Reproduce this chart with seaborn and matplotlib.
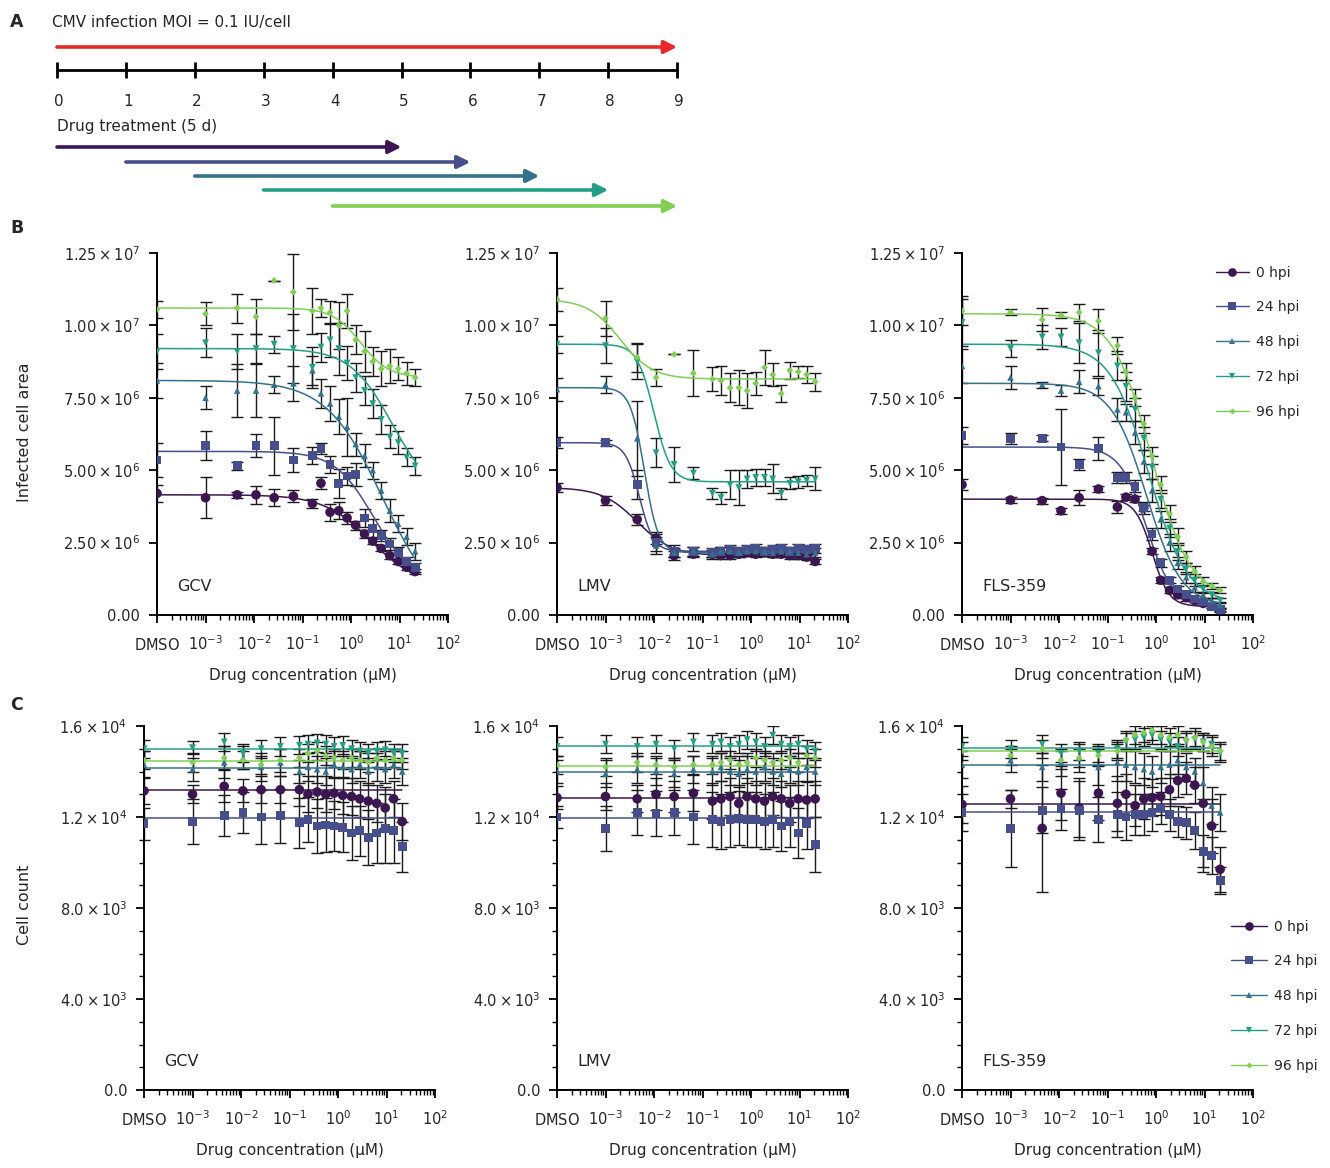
import numpy as np
import pandas as pd
import matplotlib.pyplot as plt
import seaborn as sns
from matplotlib.lines import Line2D
from matplotlib.ticker import FixedLocator, MultipleLocator, LogLocator, NullFormatter

# -------------------------
# DATA
# -------------------------

TIMES = ["0 hpi", "24 hpi", "48 hpi", "72 hpi", "96 hpi"]
DRUGS = ["GCV", "LMV", "FLS-359"]

# drug concentrations (uM); DMSO control is drawn at the left edge of the axis
DMSO_X = 1e-4
CONC = [0.001, 0.0045, 0.011, 0.026, 0.065, 0.16, 0.24, 0.37, 0.56, 0.83,
        1.25, 1.9, 2.8, 4.2, 6.3, 9.4, 14, 21]

# panel A timeline
DAYS = [0, 1, 2, 3, 4, 5, 6, 7, 8, 9]
TREAT_START = [0, 1, 2, 3, 4]
TREAT_END = [5, 6, 7, 8, 9]

# panel B: infected cell area (x 1e6), first value = DMSO
gcv_area = {
    "0 hpi": [4.2, 4.05, 4.15, 4.15, 4.05, 4.1, 3.85, 4.55, 3.55, 3.6, 3.35, 3.1, 2.8, 2.55, 2.3, 2.05, 1.85, 1.65, 1.5],
    "24 hpi": [5.35, 5.85, 5.15, 5.85, 5.85, 5.35, 5.5, 5.75, 5.2, 4.55, 4.8, 4.85, 3.35, 3.0, 2.75, 2.45, 2.15, 1.85, 1.65],
    "48 hpi": [8.1, 7.5, 7.75, 7.75, 7.95, 8.0, 8.45, 7.65, 7.3, 6.85, 6.5, 5.9, 5.5, 5.0, 4.3, 3.6, 3.15, 2.7, 2.2],
    "72 hpi": [9.1, 9.4, 9.1, 9.2, 9.35, 9.2, 8.55, 9.25, 9.5, 9.2, 8.7, 8.2, 7.75, 7.3, 6.75, 6.15, 5.95, 5.45, 5.15],
    "96 hpi": [10.55, 10.4, 10.6, 10.3, 11.55, 11.15, 10.5, 10.6, 10.45, 10.0, 10.5, 9.5, 9.1, 8.75, 8.5, 8.6, 8.5, 8.35, 8.2],
}
gcv_area_sd = {
    "0 hpi": [0.3, 0.7, 0.1, 0.3, 0.3, 0.2, 0.15, 0.2, 0.3, 0.3, 0.2, 0.15, 0.15, 0.1, 0.1, 0.1, 0.1, 0.1, 0.1],
    "24 hpi": [0.6, 0.5, 0.15, 0.4, 1.0, 0.4, 0.3, 0.2, 0.3, 0.5, 0.3, 0.4, 0.3, 0.3, 0.2, 0.2, 0.2, 0.15, 0.15],
    "48 hpi": [0.6, 0.4, 0.9, 0.9, 0.3, 0.6, 0.5, 0.5, 0.6, 0.6, 1.0, 0.4, 0.4, 0.3, 0.3, 0.4, 0.3, 0.3, 0.3],
    "72 hpi": [0.6, 0.5, 0.6, 0.5, 0.3, 1.2, 0.7, 0.5, 0.6, 0.9, 0.6, 0.5, 0.5, 0.5, 0.5, 0.4, 0.4, 0.3, 0.3],
    "96 hpi": [0.3, 0.4, 0.5, 0.6, 0.0, 1.3, 0.8, 0.3, 0.4, 0.8, 0.6, 0.5, 0.7, 0.5, 0.6, 0.6, 0.4, 0.4, 0.3],
}
lmv_area = {
    "0 hpi": [4.4, 3.95, 3.3, 2.65, 2.05, 2.1, 2.1, 2.05, 2.05, 2.1, 2.15, 2.1, 2.15, 2.1, 2.1, 2.05, 2.05, 2.0, 1.85],
    "24 hpi": [5.95, 5.95, 4.5, 2.5, 2.2, 2.2, 2.15, 2.2, 2.25, 2.2, 2.25, 2.3, 2.2, 2.25, 2.3, 2.2, 2.3, 2.25, 2.3],
    "48 hpi": [7.8, 7.95, 6.1, 2.4, 2.15, 2.2, 2.1, 2.2, 2.2, 2.15, 2.2, 2.2, 2.2, 2.15, 2.2, 2.2, 2.15, 2.1, 2.15],
    "72 hpi": [9.35, 9.3, 8.75, 5.6, 5.2, 4.9, 4.2, 4.05, 4.5, 4.4, 4.7, 4.75, 4.75, 4.7, 4.2, 4.55, 4.6, 4.65, 4.7],
    "96 hpi": [10.9, 10.25, 8.9, 8.2, 9.0, 8.35, 8.15, 8.1, 7.85, 7.85, 7.75, 8.0, 8.55, 8.3, 7.65, 8.45, 8.4, 8.3, 8.05],
}
lmv_area_sd = {
    "0 hpi": [0.15, 0.15, 0.2, 0.2, 0.15, 0.1, 0.1, 0.1, 0.1, 0.1, 0.1, 0.1, 0.1, 0.1, 0.1, 0.1, 0.1, 0.1, 0.1],
    "24 hpi": [0.2, 0.1, 0.5, 0.3, 0.2, 0.15, 0.15, 0.15, 0.15, 0.15, 0.15, 0.15, 0.15, 0.15, 0.15, 0.15, 0.15, 0.15, 0.15],
    "48 hpi": [0.4, 0.3, 1.3, 0.3, 0.15, 0.15, 0.15, 0.15, 0.15, 0.15, 0.15, 0.15, 0.15, 0.15, 0.15, 0.15, 0.15, 0.15, 0.15],
    "72 hpi": [0.3, 0.6, 0.6, 0.5, 0.6, 0.2, 0.2, 0.2, 0.5, 0.6, 0.3, 0.3, 0.3, 0.5, 0.2, 0.2, 0.2, 0.2, 0.4],
    "96 hpi": [0.4, 0.6, 0.5, 0.3, 0.0, 0.8, 0.4, 0.5, 0.5, 0.6, 0.6, 0.4, 0.6, 0.4, 0.3, 0.3, 0.2, 0.3, 0.3],
}
fls_area = {
    "0 hpi": [4.5, 3.97, 3.95, 3.6, 4.05, 4.35, 3.73, 4.07, 4.0, 3.7, 2.2, 1.2, 0.85, 0.7, 0.6, 0.5, 0.4, 0.3, 0.15],
    "24 hpi": [6.2, 6.1, 6.1, 5.8, 5.2, 5.75, 4.75, 4.75, 4.45, 3.7, 2.8, 1.8, 1.2, 0.9, 0.7, 0.55, 0.45, 0.3, 0.2],
    "48 hpi": [8.6, 8.2, 7.95, 7.75, 8.05, 7.9, 7.1, 7.0, 6.3, 5.3, 4.3, 3.3, 2.5, 1.8, 1.3, 0.95, 0.7, 0.5, 0.35],
    "72 hpi": [10.1, 9.2, 9.6, 9.6, 9.4, 9.05, 8.6, 7.9, 7.1, 6.1, 5.1, 4.0, 3.0, 2.2, 1.6, 1.2, 0.9, 0.7, 0.5],
    "96 hpi": [10.5, 10.45, 10.2, 10.35, 10.45, 10.15, 9.3, 8.4, 7.5, 6.6, 5.5, 4.5, 3.5, 2.7, 2.0, 1.5, 1.15, 1.0, 0.85],
}
fls_area_sd = {
    "0 hpi": [0.2, 0.1, 0.1, 0.1, 0.25, 0.1, 0.2, 0.1, 0.1, 0.1, 0.1, 0.1, 0.1, 0.1, 0.1, 0.05, 0.05, 0.05, 0.05],
    "24 hpi": [0.3, 0.2, 0.1, 1.3, 0.2, 0.4, 0.2, 0.2, 0.2, 0.2, 0.2, 0.15, 0.1, 0.1, 0.1, 0.1, 0.1, 0.05, 0.05],
    "48 hpi": [0.6, 0.4, 0.1, 0.2, 0.4, 0.3, 0.4, 0.3, 0.4, 0.4, 0.4, 0.3, 0.3, 0.2, 0.2, 0.15, 0.1, 0.1, 0.1],
    "72 hpi": [0.8, 0.3, 0.4, 0.3, 0.7, 0.8, 0.5, 0.5, 0.4, 0.4, 0.4, 0.3, 0.3, 0.3, 0.2, 0.2, 0.15, 0.1, 0.1],
    "96 hpi": [0.5, 0.1, 0.4, 0.1, 0.3, 0.4, 0.3, 0.3, 0.3, 0.3, 0.3, 0.3, 0.3, 0.3, 0.2, 0.2, 0.15, 0.1, 0.1],
}

# panel C: cell count (x 1e3), first value = DMSO
gcv_count = {
    "0 hpi": [13.15, 13.0, 13.35, 13.15, 13.2, 13.2, 13.2, 13.0, 13.1, 13.0, 13.05, 12.95, 12.9, 12.8, 12.7, 12.6, 12.4, 12.8, 11.8],
    "24 hpi": [11.7, 11.8, 12.05, 12.2, 12.0, 12.05, 11.75, 11.9, 11.6, 11.65, 11.6, 11.55, 11.3, 11.4, 11.1, 11.3, 11.5, 11.4, 10.7],
    "48 hpi": [14.3, 14.1, 14.4, 14.6, 14.2, 14.4, 14.0, 14.2, 14.1, 14.0, 14.3, 14.2, 14.1, 14.3, 14.0, 14.2, 14.1, 14.3, 14.0],
    "72 hpi": [15.0, 15.05, 15.3, 14.8, 15.0, 15.1, 15.15, 15.2, 15.25, 15.2, 15.1, 15.15, 15.0, 14.9, 14.8, 14.9, 14.95, 14.8, 14.8],
    "96 hpi": [14.5, 14.4, 14.6, 14.5, 14.3, 14.5, 14.6, 14.8, 14.9, 14.7, 14.6, 14.5, 14.6, 14.5, 14.4, 14.6, 14.5, 14.6, 14.5],
}
gcv_count_sd = {
    "0 hpi": [0.6, 0.4, 0.7, 0.5, 0.6, 0.6, 0.7, 0.8, 0.7, 0.8, 0.7, 0.8, 0.8, 0.8, 0.8, 0.8, 0.9, 0.8, 0.8],
    "24 hpi": [0.7, 1.0, 0.9, 0.9, 1.2, 1.2, 1.1, 1.0, 1.2, 1.2, 1.1, 1.1, 1.2, 1.1, 1.2, 1.3, 1.5, 1.4, 1.1],
    "48 hpi": [0.6, 0.5, 0.7, 0.5, 0.6, 0.6, 0.5, 0.6, 0.6, 0.6, 0.6, 0.5, 0.6, 0.6, 0.6, 0.6, 0.6, 0.6, 0.6],
    "72 hpi": [0.4, 0.3, 0.4, 0.4, 0.4, 0.4, 0.4, 0.4, 0.4, 0.4, 0.4, 0.4, 0.4, 0.4, 0.4, 0.4, 0.4, 0.4, 0.4],
    "96 hpi": [0.4, 0.4, 0.5, 0.4, 0.4, 0.5, 0.4, 0.4, 0.4, 0.4, 0.4, 0.4, 0.4, 0.4, 0.4, 0.4, 0.4, 0.4, 0.4],
}
lmv_count = {
    "0 hpi": [12.85, 12.9, 12.8, 13.0, 12.9, 13.05, 12.7, 12.8, 12.9, 12.6, 12.9, 12.8, 12.7, 12.9, 12.8, 12.6, 12.8, 12.75, 12.8],
    "24 hpi": [12.0, 11.5, 12.2, 12.15, 12.2, 12.0, 11.9, 11.8, 11.9, 11.95, 11.9, 11.9, 11.8, 11.9, 11.6, 11.8, 11.3, 11.7, 10.8],
    "48 hpi": [14.0, 13.9, 14.1, 14.0, 13.9, 14.1, 14.0, 14.2, 14.0, 13.9, 14.1, 14.0, 14.2, 14.0, 13.9, 14.1, 14.0, 14.2, 14.0],
    "72 hpi": [15.1, 15.2, 15.1, 15.2, 15.0, 15.3, 15.2, 15.3, 15.1, 15.2, 15.4, 15.3, 15.1, 15.6, 15.2, 15.1, 15.2, 15.0, 14.9],
    "96 hpi": [14.3, 14.2, 14.4, 14.3, 14.2, 14.3, 14.3, 14.4, 14.5, 14.3, 14.4, 14.6, 14.5, 14.4, 14.5, 14.6, 14.4, 14.7, 14.6],
}
lmv_count_sd = {
    "0 hpi": [0.5, 0.6, 0.6, 0.7, 0.7, 0.8, 0.8, 0.8, 0.8, 0.8, 0.8, 0.8, 0.8, 0.8, 0.8, 0.8, 0.8, 0.8, 0.8],
    "24 hpi": [0.5, 1.0, 1.0, 1.0, 1.0, 1.2, 1.2, 1.2, 1.2, 1.2, 1.2, 1.2, 1.2, 1.2, 1.1, 1.1, 1.1, 1.1, 1.2],
    "48 hpi": [0.5, 0.6, 0.6, 0.6, 0.6, 0.6, 0.6, 0.6, 0.6, 0.6, 0.6, 0.6, 0.6, 0.6, 0.6, 0.6, 0.6, 0.6, 0.6],
    "72 hpi": [0.4, 0.4, 0.4, 0.4, 0.4, 0.4, 0.4, 0.4, 0.4, 0.4, 0.4, 0.4, 0.4, 0.4, 0.4, 0.4, 0.4, 0.4, 0.4],
    "96 hpi": [0.4, 0.4, 0.4, 0.4, 0.4, 0.4, 0.4, 0.4, 0.4, 0.4, 0.4, 0.4, 0.4, 0.4, 0.4, 0.4, 0.4, 0.4, 0.4],
}
fls_count = {
    "0 hpi": [12.55, 12.8, 11.5, 13.05, 12.4, 13.05, 12.6, 13.0, 12.5, 12.8, 12.85, 12.9, 13.2, 13.6, 13.7, 13.4, 12.6, 11.6, 9.7],
    "24 hpi": [12.2, 11.5, 12.3, 12.35, 12.3, 11.9, 12.1, 12.0, 12.1, 12.1, 12.2, 12.4, 12.1, 11.8, 11.75, 11.4, 10.5, 10.3, 9.2],
    "48 hpi": [14.3, 14.5, 14.2, 14.4, 14.6, 14.2, 14.4, 14.3, 14.2, 14.1, 14.0, 14.2, 14.3, 14.5, 14.2, 14.0, 13.5, 12.5, 12.2],
    "72 hpi": [15.1, 15.0, 15.2, 14.8, 14.9, 14.8, 15.0, 15.3, 15.4, 15.5, 15.6, 15.4, 15.3, 15.1, 15.3, 15.4, 15.3, 15.2, 14.8],
    "96 hpi": [14.9, 14.7, 15.0, 14.5, 14.6, 14.7, 14.9, 15.4, 15.6, 15.7, 15.8, 15.6, 15.5, 15.6, 15.4, 15.5, 15.3, 15.1, 14.9],
}
fls_count_sd = {
    "0 hpi": [0.8, 0.4, 2.8, 1.2, 1.3, 1.2, 1.2, 0.9, 0.9, 0.9, 0.8, 0.8, 0.7, 0.7, 0.7, 0.8, 3.0, 1.2, 1.0],
    "24 hpi": [0.8, 1.7, 1.0, 0.9, 1.3, 1.0, 1.0, 1.0, 0.9, 0.9, 0.8, 0.7, 0.7, 0.7, 0.7, 0.8, 0.7, 0.8, 0.6],
    "48 hpi": [0.6, 0.5, 0.6, 0.6, 0.6, 0.8, 0.8, 0.7, 0.7, 0.7, 0.7, 0.7, 0.6, 0.6, 0.6, 0.6, 0.7, 0.8, 0.8],
    "72 hpi": [0.4, 0.4, 0.4, 0.4, 0.4, 0.4, 0.4, 0.4, 0.4, 0.4, 0.4, 0.4, 0.4, 0.4, 0.4, 0.4, 0.4, 0.4, 0.4],
    "96 hpi": [0.4, 0.4, 0.4, 0.4, 0.4, 0.4, 0.4, 0.4, 0.4, 0.4, 0.4, 0.4, 0.4, 0.4, 0.4, 0.4, 0.4, 0.4, 0.4],
}

# 4-parameter logistic fits: top, bottom, log10 EC50, Hill slope (per time point)
gcv_area_fit = {"top": [4.15, 5.65, 8.1, 9.2, 10.6], "bottom": [1.0, 1.2, 0.0, 4.0, 8.2],
                "logec50": [0.4, 0.45, 0.65, 0.85, 0.2], "hill": [0.9, 1.1, 0.75, 1.0, 1.5]}
lmv_area_fit = {"top": [4.4, 5.95, 7.85, 9.35, 10.9], "bottom": [2.05, 2.2, 2.15, 4.6, 8.15],
                "logec50": [-2.35, -2.3, -2.2, -2.0, -2.7], "hill": [1.2, 3.0, 3.0, 2.5, 1.3]}
fls_area_fit = {"top": [4.0, 5.8, 8.0, 9.35, 10.4], "bottom": [0.3, 0.3, 0.3, 0.4, 0.6],
                "logec50": [-0.08, -0.2, -0.2, -0.15, -0.1], "hill": [2.5, 1.6, 1.2, 1.1, 1.1]}
gcv_count_fit = {"top": [13.2, 11.95, 14.15, 15.0, 14.45], "bottom": [13.2, 11.95, 14.15, 15.0, 14.45],
                 "logec50": [0, 0, 0, 0, 0], "hill": [1, 1, 1, 1, 1]}
lmv_count_fit = {"top": [12.85, 11.95, 14.0, 15.1, 14.25], "bottom": [12.85, 11.95, 14.0, 15.1, 14.25],
                 "logec50": [0, 0, 0, 0, 0], "hill": [1, 1, 1, 1, 1]}
fls_count_fit = {"top": [12.55, 12.2, 14.3, 15.05, 14.9], "bottom": [12.55, 12.2, 14.3, 15.05, 14.9],
                 "logec50": [0, 0, 0, 0, 0], "hill": [1, 1, 1, 1, 1]}

# -------------------------
# STYLE
# -------------------------

COLORS = {"0 hpi": "#3b1650", "24 hpi": "#464f8c", "48 hpi": "#35718d",
          "72 hpi": "#23a083", "96 hpi": "#7fcf55"}
MARKERS = {"0 hpi": "o", "24 hpi": "s", "48 hpi": "^", "72 hpi": "v", "96 hpi": "D"}
SIZES = {"0 hpi": 48, "24 hpi": 40, "48 hpi": 22, "72 hpi": 24, "96 hpi": 12}
TEXT = "#262626"

sns.set_theme(style="ticks")
plt.rcParams["font.family"] = ["DejaVu Sans"]
plt.rcParams["mathtext.fontset"] = "dejavusans"

W, H = 1330, 1168
fig = plt.figure(figsize=(W / 100, H / 100), dpi=100)


def px_axes(left, top, right, bottom):
    return fig.add_axes([left / W, 1 - bottom / H, (right - left) / W, (bottom - top) / H])


def logistic(x, top, bottom, logec50, hill):
    return bottom + (top - bottom) / (1 + 10 ** (hill * (np.log10(x) - logec50)))


def draw_panel(ax, means, sds, fit, scale, name, yticks, ylabels, yminor=None):
    xs = [DMSO_X] + CONC
    rows = []
    for t in TIMES:
        for x, m, s in zip(xs, means[t], sds[t]):
            rows.append({"conc": x, "value": m * scale, "sd": s * scale, "time": t})
    df = pd.DataFrame(rows)

    for t in TIMES:
        sub = df[df["time"] == t]
        ax.errorbar(sub["conc"], sub["value"], yerr=sub["sd"], fmt="none",
                    ecolor="#1a1a1a", elinewidth=1.0, capsize=4.5, capthick=1.0, zorder=2)

    curve_x = np.logspace(-4, np.log10(CONC[-1]), 300)
    for i, t in enumerate(TIMES):
        curve_y = logistic(curve_x, fit["top"][i], fit["bottom"][i], fit["logec50"][i], fit["hill"][i]) * scale
        ax.plot(curve_x, curve_y, color=COLORS[t], lw=1.1, zorder=2.5)

    sns.scatterplot(data=df, x="conc", y="value", hue="time", style="time", size="time",
                    palette=COLORS, markers=MARKERS, sizes=SIZES, hue_order=TIMES,
                    style_order=TIMES, size_order=TIMES, linewidth=0, legend=False,
                    ax=ax, zorder=3)

    ax.set_xscale("log")
    ax.set_xlim(1e-4, 1e2)
    ax.set_ylim(yticks[0], yticks[-1])
    ax.xaxis.set_major_locator(FixedLocator([1e-4, 1e-3, 1e-2, 1e-1, 1e0, 1e1, 1e2]))
    ax.set_xticklabels([r"$\mathrm{DMSO}$", "$10^{-3}$", "$10^{-2}$", "$10^{-1}$",
                        "$10^{0}$", "$10^{1}$", "$10^{2}$"])
    ax.xaxis.set_minor_locator(LogLocator(base=10, subs=np.arange(2, 10), numticks=20))
    ax.xaxis.set_minor_formatter(NullFormatter())
    ax.set_yticks(yticks)
    ax.set_yticklabels(ylabels)
    if yminor:
        ax.yaxis.set_minor_locator(MultipleLocator(yminor))
    ax.tick_params(axis="both", which="major", direction="out", length=6, width=1.3,
                   labelsize=10.5, color="black", labelcolor=TEXT)
    ax.tick_params(axis="x", which="major", pad=8)
    ax.tick_params(axis="y", which="major", pad=6)
    ax.tick_params(axis="both", which="minor", direction="out", length=3.5, width=1.0, color="black")
    # keep DMSO on the same baseline as the power-of-ten labels
    ax.get_xticklabels()[0].set_y(-0.006)
    for side in ["left", "bottom"]:
        ax.spines[side].set_linewidth(1.4)
        ax.spines[side].set_color("black")
    sns.despine(ax=ax)
    ax.set_xlabel("Drug concentration (µM)", fontsize=11, color=TEXT, labelpad=11)
    ax.set_ylabel("")
    ax.text(0.07, 0.065, name, transform=ax.transAxes, fontsize=11.5, color=TEXT)


# -------------------------
# PANEL A: TIMELINE
# -------------------------

axA = px_axes(0, 0, 700, 220)
axA.set_xlim((0 - 57) / 68.9, (700 - 57) / 68.9)
axA.set_ylim(220, 0)
axA.axis("off")

axA.annotate("", xy=(DAYS[-1], 47), xytext=(DAYS[0], 47),
             arrowprops=dict(arrowstyle="-|>", color="#e8282b", lw=2.6,
                             mutation_scale=19, shrinkA=0, shrinkB=0))
axA.plot([DAYS[0], DAYS[-1]], [70, 70], color="black", lw=2)
axA.plot(DAYS, [70] * len(DAYS), linestyle="none", marker="|", color="black", ms=11, mew=2)
for d in DAYS:
    axA.text(d + 0.03, 101, str(d), ha="center", va="center", fontsize=11, color=TEXT)
axA.text(DAYS[0], 126, "Drug treatment (5 d)", ha="left", va="center", fontsize=11, color=TEXT)

arrow_y = [147, 162, 176, 190, 206]
for s, e, y, t in zip(TREAT_START, TREAT_END, arrow_y, TIMES):
    axA.annotate("", xy=(e, y), xytext=(s, y),
                 arrowprops=dict(arrowstyle="-|>", color=COLORS[t], lw=2.6,
                                 mutation_scale=19, shrinkA=0, shrinkB=0))

fig.text(10 / W, 1 - 22 / H, "A", fontsize=12.5, fontweight="bold", va="center")
fig.text(52 / W, 1 - 22 / H, "CMV infection MOI = 0.1 IU/cell", fontsize=11, va="center", color=TEXT)
fig.text(10 / W, 1 - 228 / H, "B", fontsize=12.5, fontweight="bold", va="center")
fig.text(10 / W, 1 - 705 / H, "C", fontsize=12.5, fontweight="bold", va="center")

# -------------------------
# PANEL B: INFECTED CELL AREA
# -------------------------

area_ticks = [0, 2.5e6, 5e6, 7.5e6, 1e7, 1.25e7]
area_labels = ["0.00", r"$2.50\times10^{6}$", r"$5.00\times10^{6}$", r"$7.50\times10^{6}$",
               r"$1.00\times10^{7}$", r"$1.25\times10^{7}$"]
area_sets = [(gcv_area, gcv_area_sd, gcv_area_fit), (lmv_area, lmv_area_sd, lmv_area_fit),
             (fls_area, fls_area_sd, fls_area_fit)]
for left, (m, s, f), name in zip([157, 557, 962], area_sets, DRUGS):
    ax = px_axes(left, 253, left + 291, 615)
    draw_panel(ax, m, s, f, 1e6, name, area_ticks, area_labels)

fig.text(25 / W, 1 - 432 / H, "Infected cell area", rotation=90, ha="center", va="center",
         fontsize=11.5, color=TEXT)

# -------------------------
# PANEL C: CELL COUNT
# -------------------------

count_ticks = [0, 4e3, 8e3, 1.2e4, 1.6e4]
count_labels = ["0.0", r"$4.0\times10^{3}$", r"$8.0\times10^{3}$", r"$1.2\times10^{4}$", r"$1.6\times10^{4}$"]
count_sets = [(gcv_count, gcv_count_sd, gcv_count_fit), (lmv_count, lmv_count_sd, lmv_count_fit),
              (fls_count, fls_count_sd, fls_count_fit)]
for left, (m, s, f), name in zip([144, 557, 962], count_sets, DRUGS):
    ax = px_axes(left, 726, left + 291, 1090)
    draw_panel(ax, m, s, f, 1e3, name, count_ticks, count_labels, yminor=1e3)

fig.text(25 / W, 1 - 905 / H, "Cell count", rotation=90, ha="center", va="center",
         fontsize=11.5, color=TEXT)

# -------------------------
# LEGENDS
# -------------------------

handles = [Line2D([0], [0], color=COLORS[t], marker=MARKERS[t], lw=1,
                  markersize=np.sqrt(SIZES[t]) * 0.9, markeredgewidth=0) for t in TIMES]
fig.legend(handles, TIMES, loc="upper left", bbox_to_anchor=(1203 / W, 1 - 253 / H),
           frameon=False, fontsize=10, handlelength=2.4, handletextpad=0.5, labelspacing=1.5,
           labelcolor=TEXT)
fig.legend(handles, TIMES, loc="upper left", bbox_to_anchor=(1218 / W, 1 - 907 / H),
           frameon=False, fontsize=10, handlelength=2.6, handletextpad=0.5, labelspacing=1.5,
           labelcolor=TEXT)

fig.savefig("out.png", dpi=100)
